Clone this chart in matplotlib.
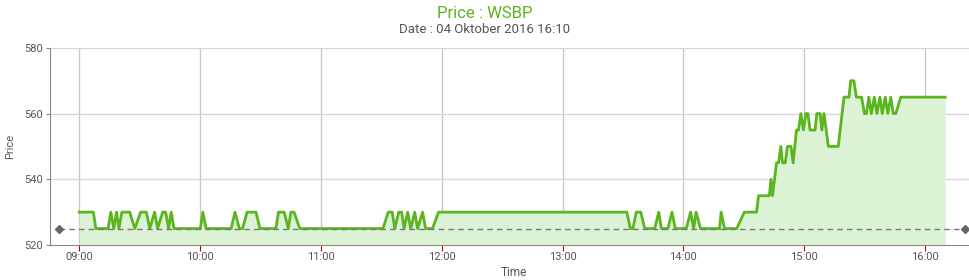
import pandas as pd
import matplotlib
matplotlib.use('Agg')
import matplotlib.pyplot as plt
import matplotlib.dates as mdates

# --------- Daten --------------------------
times = ['09:00:00', '09:07:00', '09:08:15', '09:14:20', '09:15:40', '09:17:10', '09:18:30',
         '09:19:40', '09:21:10', '09:25:05', '09:27:35', '09:30:30', '09:33:20', '09:35:00',
         '09:37:25', '09:38:55', '09:41:25', '09:42:55', '09:44:20', '09:45:40', '09:47:00',
         '10:00:10', '10:01:20', '10:03:00', '10:15:25', '10:17:20', '10:19:30', '10:21:05',
         '10:23:20', '10:27:45', '10:29:45', '10:37:40', '10:38:55', '10:41:45', '10:43:50',
         '10:45:05', '10:46:40', '10:49:30', '11:30:50', '11:33:25', '11:35:25', '11:36:40',
         '11:38:40', '11:40:05', '11:41:20', '11:43:05', '11:44:35', '11:46:35', '11:48:00',
         '11:50:30', '11:52:00', '11:55:25', '11:58:25',
         '13:30:55', '13:31:55', '13:33:40', '13:34:55', '13:36:35', '13:38:50', '13:40:50',
         '13:45:45', '13:47:45', '13:49:05', '13:52:20', '13:54:20', '13:56:00', '14:01:25',
         '14:03:35', '14:05:05', '14:06:20', '14:08:30', '14:17:55', '14:18:45', '14:20:25',
         '14:26:30', '14:30:15', '14:36:20', '14:37:20', '14:42:40', '14:43:30', '14:44:15',
         '14:46:15', '14:47:15', '14:48:25', '14:49:15', '14:50:35', '14:51:40', '14:53:25',
         '14:54:30', '14:56:10', '14:57:10', '14:58:20', '14:59:35',
         '15:00:50', '15:01:50', '15:02:55', '15:05:25', '15:06:15', '15:07:55', '15:08:45',
         '15:09:50', '15:12:00', '15:16:55', '15:19:45', '15:22:15', '15:23:05', '15:24:40',
         '15:25:55', '15:28:30', '15:29:55', '15:30:55', '15:32:05', '15:33:20', '15:34:50',
         '15:36:05', '15:37:35', '15:38:45', '15:40:15', '15:41:30', '15:43:00', '15:44:15',
         '15:45:30', '15:47:55', '16:10:00']
price = [530, 530, 525, 525, 530, 525, 530,
         525, 530, 530, 525, 530, 530, 525,
         530, 525, 530, 530, 525, 530, 525,
         525, 530, 525, 525, 530, 525, 525,
         530, 530, 525, 525, 530, 530, 525,
         530, 530, 525, 525, 530, 530, 525,
         530, 530, 525, 530, 525, 530, 525,
         530, 525, 525, 530,
         530, 530, 525, 525, 530, 530, 525,
         525, 530, 525, 525, 530, 525, 525,
         530, 525, 530, 525, 525, 530, 525,
         525, 530, 530, 535, 535, 540, 535,
         545, 545, 550, 545, 545, 550, 550,
         545, 555, 555, 560, 555,
         560, 560, 555, 555, 560, 560, 555,
         560, 550, 550, 565, 565, 570, 570,
         565, 565, 560, 560, 565, 560, 565,
         560, 565, 560, 565, 560, 565, 560,
         560, 565, 565]
ref_price = 525
y_ticks = [520, 540, 560, 580]
hour_ticks = ['09:00', '10:00', '11:00', '12:00', '13:00', '14:00', '15:00', '16:00']

day = '2016-10-04 '
t = pd.to_datetime([day + s for s in times])
hours = pd.to_datetime([day + h for h in hour_ticks])
x_lo = pd.Timestamp(day + '08:45:27')
x_hi = pd.Timestamp(day + '16:22:20')

# --------- Plot --------------
plt.rcParams['font.family'] = ['Roboto', 'DejaVu Sans']
fig = plt.figure(figsize=(9.7, 2.8), dpi=100)
ax = fig.add_axes([0.0515, 0.125, 0.9485, 0.704])

ax.fill_between(t, price, 520, color='#dcf2d4', lw=0, zorder=1)
ax.plot(t, price, color='#5ab51e', lw=2, zorder=3)
ax.plot([pd.Timestamp(day + '08:50:00'), pd.Timestamp(day + '16:20:00')], [ref_price, ref_price],
        color='#777777', lw=1, ls=(0, (4, 3)), marker='D', ms=4, markevery=[0, 1],
        markerfacecolor='#666666', markeredgecolor='#666666', zorder=4)

ax.set_xlim(x_lo, x_hi)
ax.set_ylim(520, 580)
ax.set_yticks(y_ticks)
ax.set_xticks(hours)
ax.xaxis.set_major_formatter(mdates.DateFormatter('%H:%M'))

for h in hours:
    ax.axvline(h, color='#c8c8c8', lw=1, zorder=0)
for yv in y_ticks[1:]:
    ax.axhline(yv, color='#d8d8d8', lw=1, zorder=0)

for s in ['top', 'right']:
    ax.spines[s].set_visible(False)
for s in ['left', 'bottom']:
    ax.spines[s].set_color('#888888')
ax.tick_params(axis='x', colors='#cc0000', length=4, labelcolor='#555555', labelsize=8, pad=1)
ax.tick_params(axis='y', colors='#888888', length=3, labelcolor='#555555', labelsize=8, pad=2)

ax.set_xlabel('Time', color='#555555', fontsize=8.5)
ax.set_ylabel('Price', color='#555555', fontsize=8)
ax.xaxis.set_label_coords(0.5045, -0.108)
ax.yaxis.set_label_coords(-0.038, 0.5)

fig.text(0.5, 0.952, 'Price : WSBP', ha='center', va='center', color='#5ab51e', fontsize=12)
fig.text(0.5, 0.895, 'Date : 04 Oktober 2016 16:10', ha='center', va='center', color='#555555', fontsize=9.5)

fig.savefig('out.png', dpi=100)
